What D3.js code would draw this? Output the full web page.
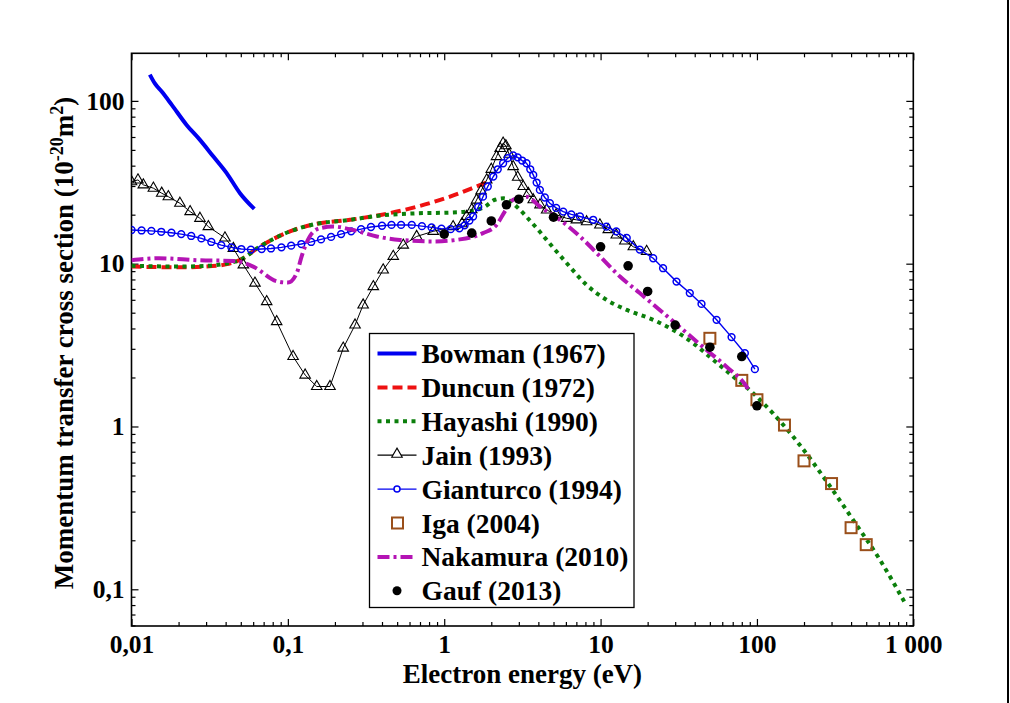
<!DOCTYPE html>
<html>
<head>
<meta charset="utf-8">
<script src="https://cdn.jsdelivr.net/npm/d3@7"></script>
<style>
  body { margin: 0; background: #fff; }
</style>
</head>
<body>
<svg id="chart"></svg>
<script>
// Datos: [energía (eV), sección eficaz (1e-20 m2)]
const bowman = [[0.0131,145],[0.0141,128],[0.0156,114],[0.0181,94.5],[0.0225,71.2],[0.0274,57.6],[0.0334,45.5],[0.0406,36],[0.0494,27.1],[0.061,21.7]];
const duncun = [[0.01,9.6],[0.02,9.5],[0.03,9.6],[0.04,9.9],[0.05,10.6],[0.065,12.6],[0.1,15.6],[0.145,17.4],[0.25,18.6],[0.4,20],[0.67,22.4],[1.09,25.8],[1.5,29],[2.0,32.5]];
const hayashi = [[0.01,9.7],[0.02,9.6],[0.03,9.7],[0.04,10.0],[0.05,10.6],[0.065,12.6],[0.1,15.6],[0.145,17.4],[0.25,18.6],[0.4,19.8],[0.67,20.4],[1.09,20.6],[1.39,20.9],[1.82,22.4],[2.11,24.7],[2.4,25.2],[3.05,21.4],[3.36,19.4],[4.09,15.7],[4.52,14],[6.06,10.1],[8.14,7.4],[10.9,6.0],[14.7,5.2],[21.7,4.52],[29.1,3.92],[39.1,3.25],[52.5,2.57],[70.4,2.03],[94.6,1.6],[127,1.2],[188,0.77],[279,0.46],[412,0.267],[611,0.152],[900,0.08]];
const jain = [[0.01,31.9],[0.011,32.7],[0.0119,30.5],[0.0138,29.1],[0.0156,27.1],[0.0172,25.8],[0.0204,23.5],[0.0237,20.9],[0.0274,19.0],[0.031,16.9],[0.0396,14.4],[0.0448,12.4],[0.0519,9.84],[0.0616,7.6],[0.0732,5.85],[0.0848,4.41],[0.108,2.69],[0.129,2.07],[0.153,1.76],[0.186,1.76],[0.226,3.03],[0.269,4.2],[0.303,5.58],[0.352,7.23],[0.407,9.16],[0.472,11.1],[0.547,13.0],[0.666,14.7],[0.851,15.8],[1.14,16.9],[1.3,17.6],[1.39,19.5],[1.5,21.5],[1.61,24.6],[1.72,28],[1.87,32.7],[2.0,38],[2.16,45.5],[2.28,51],[2.38,55],[2.48,53],[2.6,47],[2.76,39.5],[2.95,34],[3.2,29.8],[3.45,27],[3.71,24.7],[4.1,23],[4.52,21.4],[5.2,20],[6.06,19.0],[7,18.6],[8.14,18.1],[9.9,17.3],[11.2,16.2],[12.6,15.0],[14.3,13.8],[16.2,12.7],[19.7,11.9]];
const gianturco = [[0.01,16.1],[0.0116,16.0],[0.0134,15.9],[0.0155,15.7],[0.018,15.5],[0.0208,15.2],[0.0241,14.8],[0.028,14.3],[0.0324,13.6],[0.0375,13.0],[0.0435,12.6],[0.0504,12.3],[0.058,12.2],[0.068,12.3],[0.078,12.4],[0.091,12.6],[0.105,12.9],[0.122,13.2],[0.141,13.6],[0.163,14.1],[0.189,14.6],[0.219,15.2],[0.254,15.8],[0.294,16.3],[0.34,16.8],[0.4,17.1],[0.46,17.3],[0.53,17.3],[0.62,17.3],[0.72,17.0],[0.83,16.7],[0.96,16.4],[1.1,16.3],[1.25,16.5],[1.35,17.2],[1.45,18.4],[1.53,19.5],[1.65,22.3],[1.77,25.8],[1.9,29.8],[2.06,34.3],[2.2,38],[2.38,41.4],[2.55,44.5],[2.76,46.2],[2.95,45],[3.15,43],[3.36,41.4],[3.55,38],[3.71,35.1],[3.9,31.5],[4.09,28.4],[4.4,25.5],[4.74,23.5],[5.2,22],[5.77,20.9],[6.5,20.1],[7.38,19.5],[8.97,18.6],[10.9,16.9],[12.6,15.8],[14.7,14.4],[17.8,12.2],[21.7,10.8],[25.1,9.38],[30.6,7.76],[37.2,6.6],[44.2,5.66],[55.2,4.52],[68.8,3.54],[83.7,2.82],[97,2.25]];
const iga = [[50,3.48],[80,1.92],[100,1.46],[150,1.02],[200,0.615],[300,0.446],[400,0.239],[500,0.188]];
const nakamura = [[0.01,10.5],[0.015,10.8],[0.027,10.5],[0.045,10.4],[0.06,9.6],[0.085,7.8],[0.1,7.65],[0.114,8.75],[0.1225,11.1],[0.138,14.7],[0.16,16.5],[0.195,16.9],[0.262,16.1],[0.37,14.7],[0.521,14.0],[0.851,13.7],[1.26,14.1],[1.77,15.4],[2.16,17.3],[2.44,20.9],[2.76,24.7],[3.36,25.8],[4.09,22.4],[5.49,18.6],[7.38,14.7],[9.9,11.1],[13.3,8.34],[17.8,6.6],[23.9,5.2],[33.7,3.92],[47.6,2.95],[63.9,2.33],[85.8,1.76],[90,1.64]];
const gauf = [[1,15.2],[1.5,15.4],[2,18.3],[2.5,23],[3,24.9],[5,19.3],[10,12.7],[15,9.7],[20,6.75],[30,4.2],[50,3.07],[80,2.69],[100,1.34]];

const legendNames = ["Bowman (1967)","Duncun (1972)","Hayashi (1990)","Jain (1993)","Gianturco (1994)","Iga (2004)","Nakamura (2010)","Gauf (2013)"];
const xTickValues = [0.01, 0.1, 1, 10, 100, 1000];
const xTickLabels = ["0,01","0,1","1","10","100","1 000"];
const yTickValues = [0.1, 1, 10, 100];
const yTickLabels = ["0,1","1","10","100"];

// Configuración
const W = 1010, H = 703;
const margin = { top: 53.3, right: 96.7, bottom: 77, left: 131.5 };
const width = W - margin.left - margin.right;
const height = H - margin.top - margin.bottom;
const FONT = "'Liberation Serif', 'Times New Roman', Times, 'DejaVu Serif', serif";

const colBlue = "#0000f0", colRed = "#ee1111", colGreen = "#0b7f0b",
      colMag = "#b414b4", colBrown = "#9a4f1a";

const svg = d3.select("#chart").attr("width", W).attr("height", H);
const g = svg.append("g").attr("transform", `translate(${margin.left},${margin.top})`);

// Escalas
const x = d3.scaleLog().domain([0.01, 1000]).range([0, width]);
const y = d3.scaleLog().domain([0.0595, 196]).range([height, 0]);

// Marcas menores
function minors(lo, hi) {
    const out = [];
    for (let d = Math.floor(Math.log10(lo)); d <= Math.ceil(Math.log10(hi)); d++) {
        for (let k = 2; k <= 9; k++) {
            const v = k * Math.pow(10, d);
            if (v > lo && v < hi) out.push(v);
        }
    }
    return out;
}
const xMinor = minors(0.01, 1000);
const yMinor = minors(0.0595, 196);

// Ejes (marcas hacia dentro en los cuatro lados)
const fmtX = v => xTickLabels[xTickValues.indexOf(v)];
const fmtY = v => yTickLabels[yTickValues.indexOf(v)];

g.append("g").attr("transform", `translate(0,${height})`)
    .call(d3.axisBottom(x).tickValues(xMinor).tickSizeInner(-4).tickSizeOuter(0).tickFormat(""));
g.append("g").attr("transform", `translate(0,${height})`)
    .call(d3.axisBottom(x).tickValues(xTickValues).tickSizeInner(-7).tickSizeOuter(0).tickPadding(9).tickFormat(fmtX));
g.append("g")
    .call(d3.axisTop(x).tickValues(xMinor).tickSizeInner(-4).tickSizeOuter(0).tickFormat(""));
g.append("g")
    .call(d3.axisTop(x).tickValues(xTickValues).tickSizeInner(-7).tickSizeOuter(0).tickFormat(""));
g.append("g")
    .call(d3.axisLeft(y).tickValues(yMinor).tickSizeInner(-4).tickSizeOuter(0).tickFormat(""));
g.append("g")
    .call(d3.axisLeft(y).tickValues(yTickValues).tickSizeInner(-7).tickSizeOuter(0).tickPadding(7).tickFormat(fmtY));
g.append("g").attr("transform", `translate(${width},0)`)
    .call(d3.axisRight(y).tickValues(yMinor).tickSizeInner(-4).tickSizeOuter(0).tickFormat(""));
g.append("g").attr("transform", `translate(${width},0)`)
    .call(d3.axisRight(y).tickValues(yTickValues).tickSizeInner(-7).tickSizeOuter(0).tickFormat(""));

g.selectAll(".tick line").attr("stroke", "#000").attr("stroke-width", 1.2);
g.selectAll(".domain").remove();
g.selectAll(".tick text").attr("font-size", 25.5).attr("font-family", FONT).attr("font-weight", "bold");

g.append("rect").attr("width", width).attr("height", height)
    .attr("fill", "none").attr("stroke", "#000").attr("stroke-width", 1.6);

// Títulos de ejes
g.append("text")
    .attr("x", width / 2).attr("y", height + 57)
    .attr("text-anchor", "middle")
    .attr("font-family", FONT).attr("font-weight", "bold").attr("font-size", 27)
    .text("Electron energy (eV)");

const yl = svg.append("text")
    .attr("transform", "translate(73,343) rotate(-90)")
    .attr("text-anchor", "middle")
    .attr("font-family", FONT).attr("font-weight", "bold").attr("font-size", 27);
yl.append("tspan").text("Momentum transfer cross section (10");
yl.append("tspan").attr("dy", -10).attr("font-size", 18).text("-20");
yl.append("tspan").attr("dy", 10).text("m");
yl.append("tspan").attr("dy", -10).attr("font-size", 18).text("2");
yl.append("tspan").attr("dy", 10).text(")");

// Líneas
g.append("clipPath").attr("id", "plotclip").append("rect").attr("width", width).attr("height", height);
const plot = g.append("g").attr("clip-path", "url(#plotclip)");

const smooth = d3.line().x(d => x(d[0])).y(d => y(d[1])).curve(d3.curveMonotoneX);
const straight = d3.line().x(d => x(d[0])).y(d => y(d[1]));

plot.append("path").datum(bowman).attr("d", smooth)
    .attr("fill", "none").attr("stroke", colBlue).attr("stroke-width", 4);
plot.append("path").datum(duncun).attr("d", smooth)
    .attr("fill", "none").attr("stroke", colRed).attr("stroke-width", 4).attr("stroke-dasharray", "10,5");
plot.append("path").datum(hayashi).attr("d", smooth)
    .attr("fill", "none").attr("stroke", colGreen).attr("stroke-width", 4).attr("stroke-dasharray", "4,4.5");

// Jain: línea fina con triángulos abiertos
plot.append("path").datum(jain).attr("d", straight)
    .attr("fill", "none").attr("stroke", "#000").attr("stroke-width", 1);
const tri = d3.symbol().type(d3.symbolTriangle).size(48);
plot.selectAll(".jain").data(jain).enter().append("path").attr("class", "jain")
    .attr("d", tri).attr("transform", d => `translate(${x(d[0])},${y(d[1])})`)
    .attr("fill", "none").attr("stroke", "#000").attr("stroke-width", 1.1);

// Gianturco: línea fina azul con círculos
plot.append("path").datum(gianturco).attr("d", straight)
    .attr("fill", "none").attr("stroke", colBlue).attr("stroke-width", 1.4);
plot.selectAll(".gian").data(gianturco).enter().append("circle").attr("class", "gian")
    .attr("cx", d => x(d[0])).attr("cy", d => y(d[1])).attr("r", 3.4)
    .attr("fill", "none").attr("stroke", colBlue).attr("stroke-width", 1.5);

// Iga: cuadrados
plot.selectAll(".iga").data(iga).enter().append("rect").attr("class", "iga")
    .attr("x", d => x(d[0]) - 5.5).attr("y", d => y(d[1]) - 5.5)
    .attr("width", 11).attr("height", 11)
    .attr("fill", "none").attr("stroke", colBrown).attr("stroke-width", 2);

plot.append("path").datum(nakamura).attr("d", smooth)
    .attr("fill", "none").attr("stroke", colMag).attr("stroke-width", 4).attr("stroke-dasharray", "12,4,3,4");

// Gauf: puntos negros
plot.selectAll(".gauf").data(gauf).enter().append("circle").attr("class", "gauf")
    .attr("cx", d => x(d[0])).attr("cy", d => y(d[1])).attr("r", 4.8).attr("fill", "#000");

// Leyenda
const lg = svg.append("g").attr("transform", "translate(369.5,333.5)");
lg.append("rect").attr("width", 264.5).attr("height", 274)
    .attr("fill", "#fff").attr("stroke", "#000").attr("stroke-width", 1.3);
const rowY = i => 20 + i * 33.9;
const styles = [
    { c: colBlue, w: 4, dash: null },
    { c: colRed, w: 4, dash: "10,5" },
    { c: colGreen, w: 4, dash: "4,4.5" },
    { c: "#000", w: 1.2, dash: null, mk: "tri" },
    { c: colBlue, w: 1.4, dash: null, mk: "circ" },
    { c: colBrown, w: 0, mk: "sq" },
    { c: colMag, w: 4, dash: "12,4,3,4" },
    { c: "#000", w: 0, mk: "dot" }
];
legendNames.forEach((name, i) => {
    const s = styles[i];
    const row = lg.append("g").attr("transform", `translate(0,${rowY(i)})`);
    if (s.w > 0) {
        row.append("line").attr("x1", 8).attr("x2", 47).attr("y1", 0).attr("y2", 0)
            .attr("stroke", s.c).attr("stroke-width", s.w).attr("stroke-dasharray", s.dash);
    }
    if (s.mk === "tri") row.append("path").attr("d", tri).attr("transform", "translate(27.5,-1)")
        .attr("fill", "#fff").attr("stroke", "#000").attr("stroke-width", 1.1);
    if (s.mk === "circ") row.append("circle").attr("cx", 27.5).attr("cy", 0).attr("r", 3)
        .attr("fill", "#fff").attr("stroke", s.c).attr("stroke-width", 1.5);
    if (s.mk === "sq") row.append("rect").attr("x", 22.5).attr("y", -5.5).attr("width", 11).attr("height", 11)
        .attr("fill", "none").attr("stroke", s.c).attr("stroke-width", 2);
    if (s.mk === "dot") row.append("circle").attr("cx", 27.5).attr("cy", 0).attr("r", 4.5).attr("fill", "#000");
    row.append("text").attr("x", 52).attr("y", 9.5)
        .attr("font-family", FONT).attr("font-weight", "bold").attr("font-size", 27.5)
        .text(name);
});

// Borde vertical a la derecha de la ventana
svg.append("line").attr("x1", 1008).attr("x2", 1008).attr("y1", 0).attr("y2", H)
    .attr("stroke", "#000").attr("stroke-width", 2);
</script>
</body>
</html>
